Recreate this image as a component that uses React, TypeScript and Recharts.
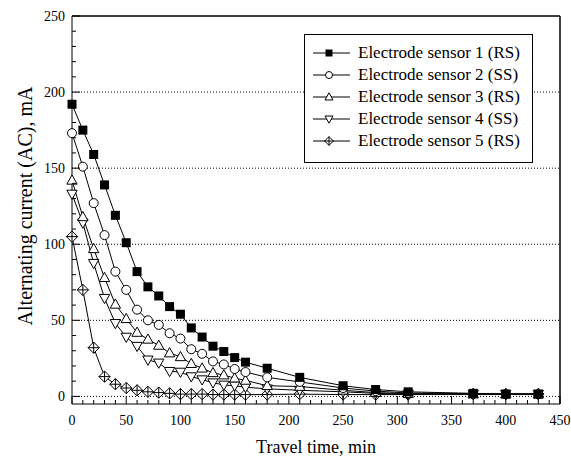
import React from "react";
import {
  CartesianGrid,
  Label,
  Legend,
  Line,
  LineChart,
  ReferenceLine,
  XAxis,
  YAxis,
} from "recharts";

const travelTime = [0, 10, 20, 30, 40, 50, 60, 70, 80, 90, 100, 110, 120, 130, 140, 150, 160, 180, 210, 250, 280, 310, 370, 400, 430];
const sensor1 = [192, 175, 159, 139, 119, 101, 82, 72, 66, 59, 54, 45, 39, 33, 29.5, 25.5, 22.5, 18.5, 12.5, 7, 4.5, 3, 2, 1.5, 1.5];
const sensor2 = [173, 151, 127, 106, 82, 70, 57, 50, 47, 41.5, 38, 31, 28, 23, 21, 18, 16, 12.5, 9.5, 5.5, 3.5, 2.2, 1.8, 1.5, 1.5];
const sensor3 = [142, 118, 97, 78, 60.5, 51, 42, 37.5, 33.5, 28.5, 26, 21.5, 18.5, 15.5, 14, 12, 10.5, 7, 6.5, 4, 2.5, 1.8, 1.5, 1.5, 1.5];
const sensor4 = [133, 114, 87.5, 64.5, 48, 39, 33, 24, 22, 16.5, 16, 13, 11, 9, 7.5, 7, 6, 5, 4, 3, 2, 1.5, 1.5, 1.5, 1.5];
const sensor5 = [105, 70, 32, 13, 8, 5.5, 4, 3, 2.5, 2, 1.5, 1.5, 1.5, 1.2, 1.2, 1.2, 1.2, 1.2, 1.5, 1.2, 1.2, 1.2, 1.5, 1.5, 1.5];

const xTicks = [0, 10, 20, 30, 40, 50, 60, 70, 80, 90, 100, 110, 120, 130, 140, 150, 160, 170, 180, 190, 200, 210, 220, 230, 240, 250, 260, 270, 280, 290, 300, 310, 320, 330, 340, 350, 360, 370, 380, 390, 400, 410, 420, 430, 440, 450];
const yTicks = [0, 10, 20, 30, 40, 50, 60, 70, 80, 90, 100, 110, 120, 130, 140, 150, 160, 170, 180, 190, 200, 210, 220, 230, 240, 250];
const gridValues = [0, 50, 100, 150, 200];

const series = [
  { key: "s1", name: "Electrode sensor 1 (RS)", values: sensor1, shape: "square" },
  { key: "s2", name: "Electrode sensor 2 (SS)", values: sensor2, shape: "circle" },
  { key: "s3", name: "Electrode sensor 3 (RS)", values: sensor3, shape: "up" },
  { key: "s4", name: "Electrode sensor 4 (SS)", values: sensor4, shape: "down" },
  { key: "s5", name: "Electrode sensor 5 (RS)", values: sensor5, shape: "cross" },
];

const rows = travelTime.map((t, i) => {
  const row: Record<string, number> = { t };
  series.forEach((s) => (row[s.key] = s.values[i]));
  return row;
});

const FONT = "'Liberation Serif', 'Times New Roman', serif";

const Marker = ({ shape, cx, cy, r = 4.5 }: { shape: string; cx: number; cy: number; r?: number }) => {
  const st = { stroke: "#000", strokeWidth: 1 };
  switch (shape) {
    case "square":
      return <rect x={cx - r} y={cy - r} width={r * 2} height={r * 2} fill="#000" />;
    case "circle":
      return <circle cx={cx} cy={cy} r={r} fill="#fff" {...st} />;
    case "up":
      return (
        <polygon
          points={`${cx},${cy - r * 1.2} ${cx + r * 1.15},${cy + r * 0.85} ${cx - r * 1.15},${cy + r * 0.85}`}
          fill="#fff"
          {...st}
        />
      );
    case "down":
      return (
        <polygon
          points={`${cx},${cy + r * 1.2} ${cx + r * 1.15},${cy - r * 0.85} ${cx - r * 1.15},${cy - r * 0.85}`}
          fill="#fff"
          {...st}
        />
      );
    default: {
      const d = r * 1.25;
      return (
        <g>
          <polygon
            points={`${cx},${cy - d} ${cx + d},${cy} ${cx},${cy + d} ${cx - d},${cy}`}
            fill="#fff"
            strokeLinejoin="round"
            {...st}
          />
          <line x1={cx - d} x2={cx + d} y1={cy} y2={cy} {...st} />
          <line x1={cx} x2={cx} y1={cy - d} y2={cy + d} {...st} />
        </g>
      );
    }
  }
};

const XTick = (props: any) => {
  const { x, y, payload } = props;
  const major = payload.value % 50 === 0;
  return (
    <g>
      <line x1={x} x2={x} y1={y} y2={y - (major ? 8 : 4)} stroke="#000" />
      {major && (
        <text x={x} y={y + 21} textAnchor="middle" fontFamily={FONT} fontSize={14} fill="#000">
          {payload.value}
        </text>
      )}
    </g>
  );
};

const YTick = (props: any) => {
  const { x, y, payload } = props;
  const major = payload.value % 50 === 0;
  return (
    <g>
      <line x1={x} x2={x + (major ? 8 : 4)} y1={y} y2={y} stroke="#000" />
      {major && (
        <text x={x - 7} y={y + 5} textAnchor="end" fontFamily={FONT} fontSize={14} fill="#000">
          {payload.value}
        </text>
      )}
    </g>
  );
};

const YTitle = (props: any) => {
  const { viewBox } = props;
  const cx = viewBox.x + viewBox.width - 40;
  const cy = viewBox.y + viewBox.height / 2 - 4;
  return (
    <text
      x={cx}
      y={cy}
      transform={`rotate(-90 ${cx} ${cy})`}
      textAnchor="middle"
      fontFamily={FONT}
      fontSize={20}
      fill="#000"
    >
      Alternating current (AC), mA
    </text>
  );
};

const LegendBox = () => (
  <div
    style={{
      border: "1px solid #000",
      background: "#fff",
      padding: "7px 0 10px 8px",
      width: 229,
      boxSizing: "border-box",
    }}
  >
    {series.map((s) => (
      <div key={s.key} style={{ display: "flex", alignItems: "center", height: 22 }}>
        <svg width={37} height={14} style={{ flexShrink: 0 }}>
          <line x1={0} x2={37} y1={7} y2={7} stroke="#000" />
          <Marker shape={s.shape} cx={16} cy={7} r={3.5} />
        </svg>
        <span
          style={{
            marginLeft: 8,
            fontFamily: FONT,
            fontSize: 17,
            color: "#000",
            whiteSpace: "nowrap",
            lineHeight: "22px",
          }}
        >
          {s.name}
        </span>
      </div>
    ))}
  </div>
);

export default function App() {
  return (
    <div style={{ position: "absolute", left: 0, top: 0, width: 571, height: 464, background: "#fff" }}>
      <LineChart width={571} height={464} data={rows} margin={{ top: 15, right: 10, bottom: 59, left: 71 }}>
        <CartesianGrid
          xAxisId="x"
          yAxisId="y"
          vertical={false}
          horizontalValues={gridValues}
          stroke="#000"
          strokeDasharray="1 2"
        />
        <XAxis
          xAxisId="x"
          dataKey="t"
          type="number"
          domain={[0, 450]}
          ticks={xTicks}
          interval={0}
          tick={(p: any) => <XTick {...p} />}
          tickLine={false}
          tickSize={0}
          tickMargin={0}
          height={1}
          axisLine={{ stroke: "#000" }}
        >
          <Label
            value="Travel time, min"
            position="bottom"
            offset={35}
            style={{ fontFamily: FONT, fontSize: 18, fill: "#000" }}
          />
        </XAxis>
        <XAxis
          xAxisId="top"
          orientation="top"
          type="number"
          domain={[0, 450]}
          tick={false}
          tickLine={false}
          height={1}
          axisLine={{ stroke: "#000" }}
        />
        <YAxis
          yAxisId="y"
          type="number"
          domain={[-5, 250]}
          ticks={yTicks}
          interval={0}
          tick={(p: any) => <YTick {...p} />}
          tickLine={false}
          tickSize={0}
          tickMargin={0}
          width={1}
          axisLine={{ stroke: "#000" }}
        >
          <Label content={(p: any) => <YTitle {...p} />} />
        </YAxis>
        <YAxis
          yAxisId="right"
          orientation="right"
          type="number"
          domain={[-5, 250]}
          tick={false}
          tickLine={false}
          width={1}
          axisLine={{ stroke: "#000" }}
        />
        <ReferenceLine xAxisId="x" yAxisId="y" y={250} stroke="#000" ifOverflow="visible" />
        <ReferenceLine xAxisId="x" yAxisId="y" x={450} stroke="#000" ifOverflow="visible" />
        <Legend
          layout="vertical"
          align="center"
          verticalAlign="middle"
          content={() => <LegendBox />}
          wrapperStyle={{ left: 304, top: 34, width: 229 }}
        />
        {[...series].reverse().map((s) => (
          <Line
            key={s.key}
            xAxisId="x"
            yAxisId="y"
            type="linear"
            dataKey={s.key}
            name={s.name}
            stroke="#000"
            strokeWidth={1}
            isAnimationActive={false}
            activeDot={false}
            dot={(p: any) => <Marker key={`${s.key}-${p.index}`} shape={s.shape} cx={p.cx} cy={p.cy} />}
          />
        ))}
      </LineChart>
    </div>
  );
}
